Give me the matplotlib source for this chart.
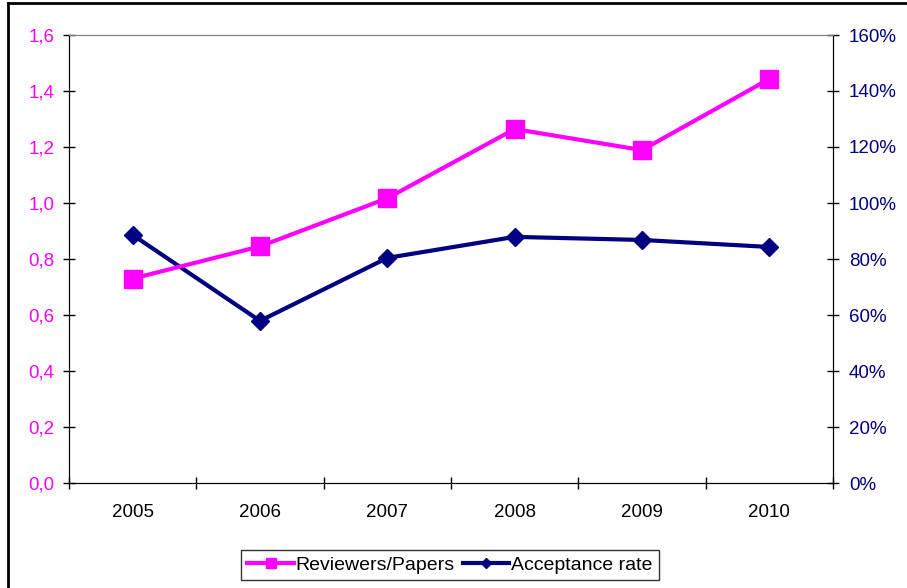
import matplotlib.pyplot as plt
from matplotlib.lines import Line2D
from matplotlib.ticker import FuncFormatter, FixedLocator
import numpy as np

plt.rcParams['font.family'] = ['Liberation Sans', 'DejaVu Sans']

years = ['2005', '2006', '2007', '2008', '2009', '2010']
reviewers_per_paper = [0.73, 0.845, 1.017, 1.264, 1.189, 1.443]
acceptance_rate = [0.886, 0.579, 0.804, 0.879, 0.868, 0.843]

magenta = '#FF00FF'
navy = '#000080'

fig = plt.figure(figsize=(9.07, 5.88), dpi=100)
ax = fig.add_axes([69 / 907, 1 - 483 / 588, (833 - 69) / 907, (483 - 35) / 588])
ax2 = ax.twinx()

x = np.arange(len(years))
l1, = ax.plot(x, reviewers_per_paper, color=magenta, lw=3, marker='s', ms=13,
              label='Reviewers/Papers', zorder=3)
l2, = ax2.plot(x, acceptance_rate, color=navy, lw=3, marker='D', ms=9,
               label='Acceptance rate', zorder=3)

ax.set_xlim(-0.5, len(years) - 0.5)
ax.set_ylim(0, 1.6)
ax2.set_ylim(0, 1.6)

ax.set_yticks(np.arange(0, 1.61, 0.2))
ax.yaxis.set_major_formatter(FuncFormatter(lambda v, p: f'{v:.1f}'.replace('.', ',')))
ax2.set_yticks(np.arange(0, 1.61, 0.2))
ax2.yaxis.set_major_formatter(FuncFormatter(lambda v, p: f'{v * 100:.0f}%'))

# category boundaries carry the tick marks, labels sit in the middle
ax.xaxis.set_major_locator(FixedLocator(np.arange(-0.5, len(years), 1)))
ax.xaxis.set_major_formatter(FuncFormatter(lambda v, p: ''))
ax.xaxis.set_minor_locator(FixedLocator(x))
ax.set_xticklabels(years, minor=True)
ax.tick_params(axis='x', which='minor', length=0, labelsize=13.5, pad=15)
ax.tick_params(axis='x', which='major', direction='inout', length=9, width=1)

ax.tick_params(axis='y', direction='inout', length=9, width=1, labelsize=13.5,
               labelcolor=magenta, pad=6)
ax2.tick_params(axis='y', direction='inout', length=9, width=1, labelsize=13.5,
                labelcolor=navy, pad=7)

for a in (ax, ax2):
    a.spines['top'].set_color('#808080')
    a.spines['left'].set_color('black')
    a.spines['right'].set_color('black')
    a.spines['bottom'].set_color('black')

ax.set_zorder(ax2.get_zorder() + 1)
ax.patch.set_visible(False)

leg = fig.legend(handles=[l1, l2], loc='center', bbox_to_anchor=(450 / 907, 1 - 565 / 588),
                 ncol=2, frameon=True, fancybox=False, fontsize=14,
                 handlelength=2.4, handletextpad=0.1, columnspacing=0.4,
                 borderpad=0.3, borderaxespad=0, markerscale=0.6)
leg.get_frame().set_edgecolor('black')
leg.get_frame().set_linewidth(1)

# chart area border
fig.add_artist(Line2D([8 / 907, 8 / 907], [0, 1 - 3 / 588], color='black', lw=2))
fig.add_artist(Line2D([8 / 907, 1], [1 - 3 / 588, 1 - 3 / 588], color='black', lw=2))

fig.savefig('out.png', dpi=100)
